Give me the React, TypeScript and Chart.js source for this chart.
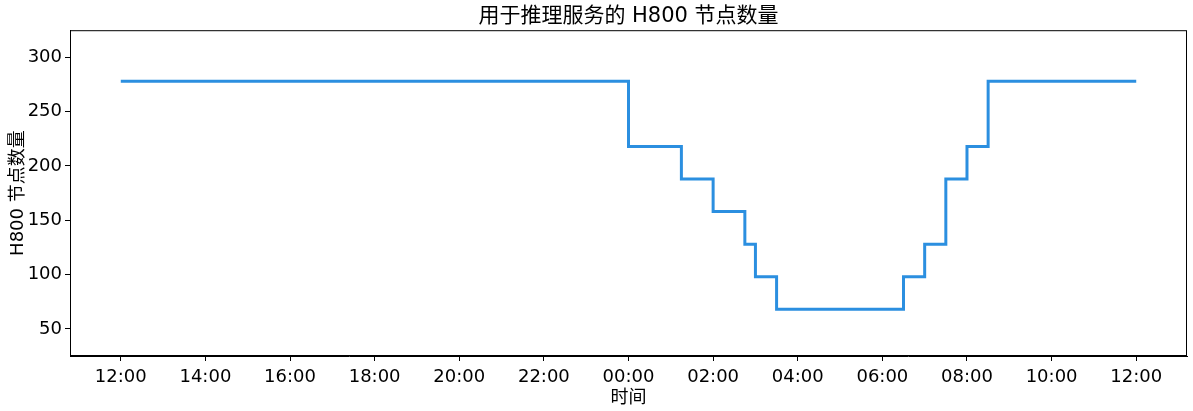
import React, { useEffect, useRef } from "react";
import { Chart, registerables } from "chart.js";

Chart.register(...registerables);

// Times at which the node count changes (step-post), from 12:00 on day 1 to 12:00 on day 2
const changeTimes = ["12:00", "00:00", "01:15", "02:00", "02:45", "03:00", "03:30", "06:30", "07:00", "07:30", "08:00", "08:30", "12:00"];
const nodeCounts = [278, 218, 188, 158, 128, 98, 68, 98, 128, 188, 218, 278, 278];
const xTickLabels = ["12:00", "14:00", "16:00", "18:00", "20:00", "22:00", "00:00", "02:00", "04:00", "06:00", "08:00", "10:00", "12:00"];
const yTicks = [50, 100, 150, 200, 250, 300];

const titleText = "用于推理服务的 H800 节点数量";
const xTitle = "时间";
const yTitle = "H800 节点数量";

// hours elapsed since the first 12:00
function toHours(labels: string[]): number[] {
  const out: number[] = [];
  let dayOffset = 0;
  let prev = -1;
  const start = labels[0].split(":").map(Number);
  const startH = start[0] + start[1] / 60;
  labels.forEach((l, i) => {
    const [h, m] = l.split(":").map(Number);
    let v = h + m / 60 - startH + dayOffset;
    if (i > 0 && v <= prev) {
      dayOffset += 24;
      v += 24;
    }
    prev = v;
    out.push(v);
  });
  return out;
}

export default function App() {
  const ref = useRef<HTMLCanvasElement | null>(null);

  useEffect(() => {
    if (!ref.current) return;
    const family = "'DejaVu Sans', 'Noto Sans CJK SC', sans-serif";
    Chart.defaults.font.family = family;
    Chart.defaults.color = "#000";

    const xs = toHours(changeTimes);
    const tickHours = toHours(xTickLabels);
    const pts = xs.map((x, i) => ({ x, y: nodeCounts[i] }));
    const span = xs[xs.length - 1] - xs[0];
    const margin = span * 0.05;

    const framePlugin = {
      id: "frame",
      afterDraw(chart: any) {
        const { ctx, chartArea } = chart;
        ctx.save();
        ctx.strokeStyle = "#000";
        ctx.lineWidth = 1;
        ctx.strokeRect(chartArea.left + 0.5, chartArea.top + 0.5, chartArea.right - chartArea.left - 1, chartArea.bottom - chartArea.top - 1);
        ctx.restore();
      },
    };

    const chart = new Chart(ref.current, {
      type: "line",
      data: {
        datasets: [
          {
            data: pts,
            borderColor: "#2b8fe0",
            borderWidth: 3,
            pointRadius: 0,
            stepped: "before",
            fill: false,
            borderCapStyle: "butt",
          },
        ],
      },
      options: {
        animation: false,
        responsive: false,
        maintainAspectRatio: false,
        layout: { padding: { left: 0, right: 6, top: 0, bottom: 0 } },
        plugins: {
          legend: { display: false },
          tooltip: { enabled: false },
          title: {
            display: true,
            fullSize: false,
            text: titleText,
            font: { size: 21, weight: "normal" },
            color: "#000",
            padding: { top: 4, bottom: 1 },
          },
        },
        scales: {
          x: {
            type: "linear",
            min: xs[0] - margin,
            max: xs[xs.length - 1] + margin,
            afterBuildTicks: (scale: any) => {
              scale.ticks = tickHours.map((v) => ({ value: v }));
            },
            afterFit: (scale: any) => {
              scale.height = 55;
            },
            ticks: {
              autoSkip: false,
              maxRotation: 0,
              padding: 6,
              font: { size: 18 },
              color: "#000",
              callback: (v: any) => {
                const i = tickHours.indexOf(Number(v));
                return i >= 0 ? xTickLabels[i] : "";
              },
            },
            grid: { drawOnChartArea: false, drawTicks: true, tickLength: 5, color: "#000" },
            border: { display: true, color: "#000" },
            title: { display: true, text: xTitle, font: { size: 18 }, color: "#000", padding: { top: 0, bottom: 2 } },
          },
          y: {
            type: "linear",
            min: 25,
            max: 325,
            afterBuildTicks: (scale: any) => {
              scale.ticks = yTicks.map((v) => ({ value: v }));
            },
            afterFit: (scale: any) => {
              scale.width = 70;
            },
            ticks: { padding: 3, font: { size: 18 }, color: "#000" },
            grid: { drawOnChartArea: false, drawTicks: true, tickLength: 5, color: "#000" },
            border: { display: true, color: "#000" },
            title: { display: true, text: yTitle, font: { size: 18 }, color: "#000", padding: { top: 8, bottom: 0 } },
          },
        },
      },
      plugins: [framePlugin],
    } as any);

    return () => chart.destroy();
  }, []);

  return (
    <div style={{ position: "fixed", left: 0, top: 0, width: 1193, height: 411, background: "#fff" }}>
      <canvas ref={ref} width={1193} height={411} style={{ width: 1193, height: 411 }} />
    </div>
  );
}
